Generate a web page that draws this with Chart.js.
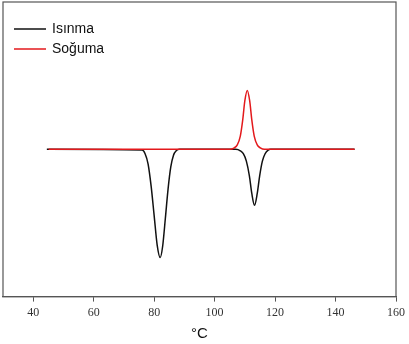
<!DOCTYPE html>
<html>
<head>
<meta charset="utf-8">
<script src="https://cdn.jsdelivr.net/npm/chart.js@4/dist/chart.umd.min.js"></script>
<style>
  html, body { margin: 0; padding: 0; background: #fff; }
  #wrap { width: 409px; height: 344px; }
</style>
</head>
<body>
<div id="wrap"><canvas id="dsc" width="409" height="344"></canvas></div>
<script>
// heating curve (Isınma)
const heatX = [44.5, 76, 77, 78, 79, 80, 81, 82, 82.8, 83.7, 84.6, 85.5, 86.4, 87.3, 88.3,
  107, 108.5, 109.5, 110.5, 111.5, 112.3, 113.2, 114.1, 114.9, 115.8, 116.7, 117.7, 118.5, 146.3];
const heatY = [0, -0.005, -0.03, -0.1, -0.25, -0.45, -0.65, -0.735, -0.66, -0.47, -0.27, -0.12, -0.04, -0.01, 0,
  0, -0.01, -0.03, -0.08, -0.18, -0.3, -0.38, -0.3, -0.18, -0.08, -0.03, -0.005, 0, 0];

// cooling curve (Soğuma)
const coolX = [45.1, 105, 106.5, 107.5, 108.5, 109.3, 110, 110.8, 111.6, 112.3, 113.1, 114.1, 115.1, 116.5, 146.3];
const coolY = [0, 0, 0.01, 0.03, 0.09, 0.2, 0.33, 0.4, 0.33, 0.2, 0.09, 0.03, 0.01, 0, 0];

const xTicks = [40, 60, 80, 100, 120, 140, 160];

const toPoints = (xs, ys) => xs.map((x, i) => ({ x: x, y: ys[i] }));

const boxAndLegend = {
  id: "boxAndLegend",
  afterDraw(chart) {
    const { ctx, chartArea: a } = chart;
    ctx.save();
    ctx.strokeStyle = "#555";
    ctx.lineWidth = 1.2;
    ctx.strokeRect(a.left, a.top, a.right - a.left, a.bottom - a.top);
    ctx.font = "14px 'Liberation Sans', Arial, sans-serif";
    ctx.textBaseline = "middle";
    chart.data.datasets.forEach((ds, i) => {
      const y = 29 + i * 20;
      ctx.strokeStyle = ds.borderColor;
      ctx.lineWidth = 1.5;
      ctx.beginPath();
      ctx.moveTo(14, y);
      ctx.lineTo(46, y);
      ctx.stroke();
      ctx.fillStyle = "#111";
      ctx.fillText(ds.label, 52, y);
    });
    ctx.restore();
  }
};

new Chart(document.getElementById("dsc").getContext("2d"), {
  type: "line",
  data: {
    datasets: [
      {
        label: "Isınma",
        data: toPoints(heatX, heatY),
        borderColor: "#111111",
        borderWidth: 1.5,
        pointRadius: 0,
        order: 1,
        cubicInterpolationMode: "monotone"
      },
      {
        label: "Soğuma",
        data: toPoints(coolX, coolY),
        borderColor: "#e3191c",
        borderWidth: 1.5,
        pointRadius: 0,
        order: 0,
        cubicInterpolationMode: "monotone"
      }
    ]
  },
  options: {
    responsive: false,
    animation: false,
    layout: { padding: { left: 3, right: 4, top: 2, bottom: 1 } },
    plugins: { legend: { display: false }, tooltip: { enabled: false } },
    scales: {
      x: {
        type: "linear",
        min: 30,
        max: 160,
        afterBuildTicks: (axis) => { axis.ticks = xTicks.map((v) => ({ value: v })); },
        grid: { drawOnChartArea: false, drawTicks: true, tickLength: 5, color: "#555" },
        border: { display: true, color: "#555", width: 1.2 },
        ticks: {
          color: "#333",
          padding: 4,
          maxRotation: 0,
          font: { family: "'Liberation Serif', 'Times New Roman', serif", size: 12 }
        },
        title: {
          display: true,
          text: "°C",
          color: "#111",
          padding: { top: 1, bottom: 0 },
          font: { family: "'Liberation Sans', Arial, sans-serif", size: 15 }
        }
      },
      y: {
        display: false,
        min: -1,
        max: 1
      }
    }
  },
  plugins: [boxAndLegend]
});
</script>
</body>
</html>
